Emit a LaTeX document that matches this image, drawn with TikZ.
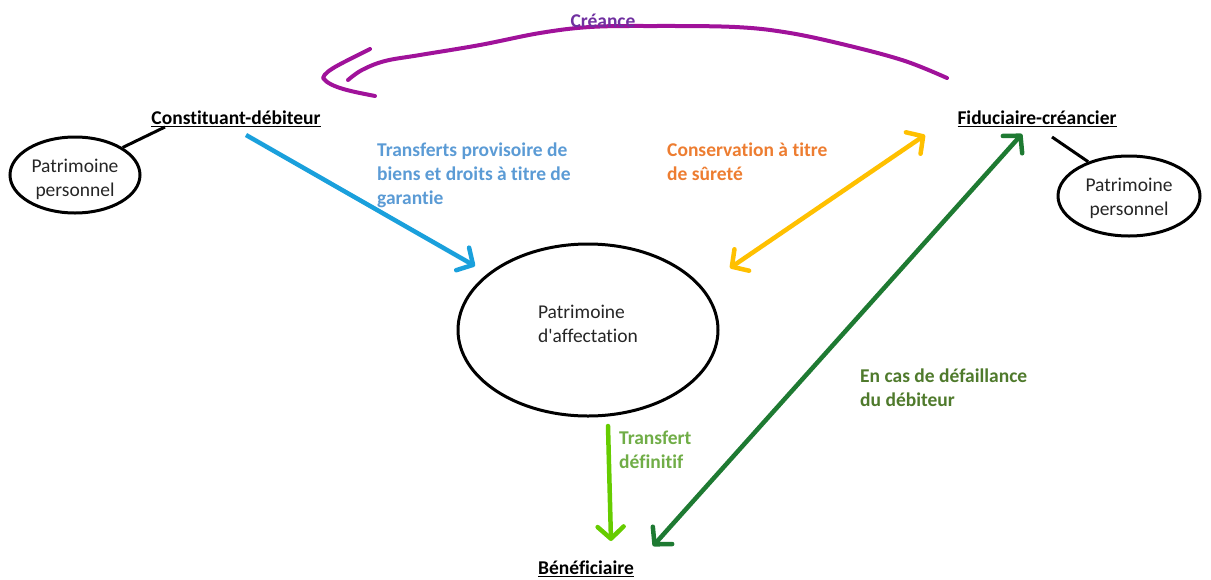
\documentclass[tikz,border=0pt]{standalone}
\usepackage{fontspec}
\setmainfont{Carlito}[Ligatures=NoCommon]
\usetikzlibrary{arrows.meta,shapes.geometric}
\definecolor{creance}{HTML}{7030A0}
\definecolor{creanceline}{HTML}{A0129A}
\definecolor{bluearrow}{HTML}{1AA0DC}
\definecolor{bluetext}{HTML}{5B9BD5}
\definecolor{orangetext}{HTML}{ED7D31}
\definecolor{yellowarrow}{HTML}{FFC000}
\definecolor{darkgreen}{HTML}{1E7A32}
\definecolor{greentext}{HTML}{4F7A2C}
\definecolor{lightgreen}{HTML}{66CC00}
\definecolor{lightgreentext}{HTML}{70AD47}
\definecolor{inktext}{HTML}{262626}
\newcommand{\txt}{\fontsize{19.5}{24}\selectfont}
\begin{document}
\begin{tikzpicture}[x=1pt,y=-1pt,
  every node/.style={font=\txt},
  party/.style={font=\txt\bfseries, text=black, inner sep=1pt},
  patri/.style={ellipse, draw=black, line width=3pt, inner sep=0pt},
  inside/.style={text=inktext, inner sep=0pt},
  lbl/.style={font=\txt\bfseries, align=left, anchor=north west, inner sep=0pt},
  flow/.style={line width=4.5pt, -{Straight Barb[length=12pt,width=26pt,line width=4.5pt,round]}},
  flow2/.style={line width=4.5pt, {Straight Barb[length=12pt,width=26pt,line width=4.5pt,round]}-{Straight Barb[length=12pt,width=26pt,line width=4.5pt,round]}},
  tie/.style={line width=3pt, draw=black}
]
\useasboundingbox (0,0) rectangle (1211,579);

% parties
\node[party] (deb) at (236,119) {\underline{Constituant-débiteur}};
\node[party] (fid) at (1037,119) {\underline{Fiduciaire-créancier}};
\node[party] (ben) at (586,569) {\underline{Bénéficiaire}};

% patrimoines
\node[patri, minimum width=130pt, minimum height=76pt] (pl) at (75,175) {};
\node[inside, align=center] (plt) at (75,179) {Patrimoine\\personnel};
\node[patri, minimum width=142pt, minimum height=80pt] (pr) at (1129,196) {};
\node[inside, align=center] (prt) at (1129,198) {Patrimoine\\personnel};
\node[patri, minimum width=260pt, minimum height=172pt] (pa) at (588,330) {};
\node[inside, align=left] (pat) at (588,324) {Patrimoine\\d\textquotesingle affectation};

% links from each party to its own patrimony
\coordinate (dl) at (165,127);
\coordinate (fl) at (1052,137);
\draw[tie] (dl) -- (pl.30);
\draw[tie] (fl) -- (pr.140);

% créance curve
\coordinate (c0) at (947,78);
\coordinate (c1) at (348,80);
\draw[creanceline, line width=4pt, line cap=round, line join=round]
  plot[smooth, tension=0.6] coordinates {(947,78) (905,61) (850,46) (790,33) (735,27) (650,26) (590,27) (540,33) (480,45) (420,55) (385,61) (362,70) (348,80)};
\draw[creanceline, line width=4pt, line cap=round, line join=round]
  (370,49) .. controls (345,62) and (325,70) .. (323,78) .. controls (330,88) and (355,92) .. (375,96);
\node[font=\txt\bfseries, text=creance, inner sep=0pt] (cr) at (603,21) {Créance};

% transfers
\coordinate (b0) at (246,135);
\coordinate (b1) at (475,266);
\draw[flow, bluearrow] (b0) -- (b1);
\node[lbl, text=bluetext] (tb) at (377,143) {Transferts provisoire de\\biens et droits à titre de\\garantie};

\coordinate (y0) at (925,135);
\coordinate (y1) at (730,268);
\draw[flow2, yellowarrow] (y1) -- (y0);
\node[lbl, text=orangetext] (to) at (667,143) {Conservation à titre\\de sûreté};

\coordinate (g0) at (1022,134);
\coordinate (g1) at (653,546);
\draw[flow2, darkgreen] (g1) -- (g0);
\node[lbl, text=greentext] (tg) at (860,369) {En cas de défaillance\\du débiteur};

\coordinate (l0) at (608,426);
\coordinate (l1) at (611,541);
\draw[flow, lightgreen, line cap=round] (l0) -- (l1);
\node[lbl, text=lightgreentext] (tl) at (619,431) {Transfert\\définitif};
\end{tikzpicture}
\end{document}
